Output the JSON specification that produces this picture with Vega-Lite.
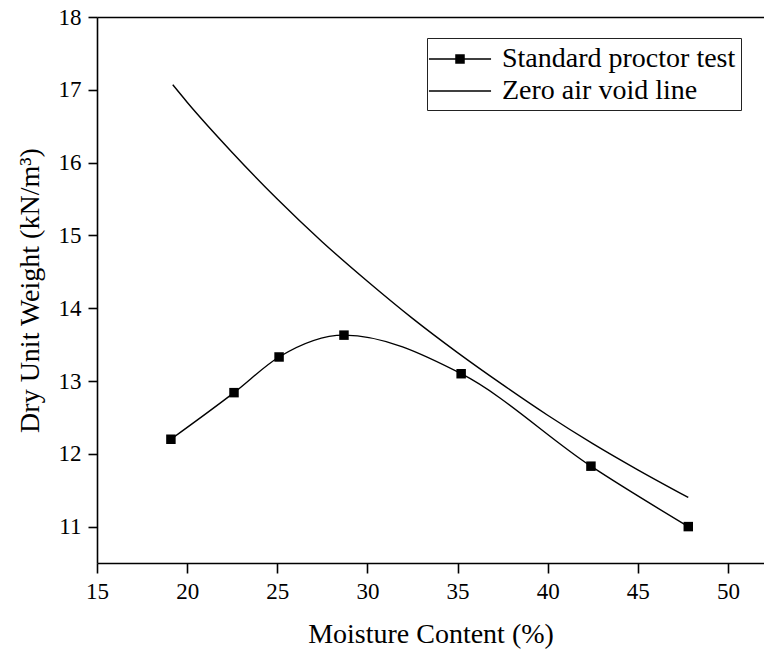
{
  "$schema": "https://vega.github.io/schema/vega-lite/v6.json",
  "width": 667,
  "height": 546,
  "autosize": "none",
  "padding": {"left": 97, "top": 17, "right": 0, "bottom": 91},
  "background": "white",
  "config": {
    "view": {"stroke": null},
    "font": "Liberation Serif",
    "style": {"guide-label": {"font": "Liberation Serif"}, "guide-title": {"font": "Liberation Serif"}}
  },
  "data": {
    "values": [
      {"series": "Standard proctor test", "w": 19.1, "g": 12.2},
      {"series": "Standard proctor test", "w": 22.6, "g": 12.84},
      {"series": "Standard proctor test", "w": 25.1, "g": 13.33},
      {"series": "Standard proctor test", "w": 28.7, "g": 13.63},
      {"series": "Standard proctor test", "w": 35.2, "g": 13.1},
      {"series": "Standard proctor test", "w": 42.4, "g": 11.83},
      {"series": "Standard proctor test", "w": 47.8, "g": 11.0},
      {"series": "Zero air void line", "w": 19.2, "g": 17.07},
      {"series": "Zero air void line", "w": 20.0, "g": 16.83},
      {"series": "Zero air void line", "w": 22.5, "g": 16.14},
      {"series": "Zero air void line", "w": 25.0, "g": 15.5},
      {"series": "Zero air void line", "w": 27.5, "g": 14.91},
      {"series": "Zero air void line", "w": 30.0, "g": 14.37},
      {"series": "Zero air void line", "w": 32.5, "g": 13.86},
      {"series": "Zero air void line", "w": 35.0, "g": 13.39},
      {"series": "Zero air void line", "w": 37.5, "g": 12.95},
      {"series": "Zero air void line", "w": 40.0, "g": 12.53},
      {"series": "Zero air void line", "w": 42.5, "g": 12.14},
      {"series": "Zero air void line", "w": 45.0, "g": 11.78},
      {"series": "Zero air void line", "w": 47.8, "g": 11.4}
    ]
  },
  "resolve": {"axis": {"x": "independent"}},
  "layer": [
    {
      "mark": {"type": "line", "interpolate": "monotone", "strokeWidth": 1.4},
      "encoding": {
        "x": {
          "field": "w", "type": "quantitative",
          "scale": {"domain": [15, 52], "nice": false, "zero": false},
          "axis": {
            "values": [15, 20, 25, 30, 35, 40, 45, 50], "format": "d",
            "title": "Moisture Content (%)",
            "grid": false, "labelFlush": false, "labelOverlap": false,
            "domainColor": "black", "domainWidth": 1.6,
            "tickColor": "black", "tickWidth": 1.6, "tickSize": 10,
            "labelFont": "Liberation Serif", "labelFontSize": 23, "labelColor": "black", "labelPadding": 7,
            "titleFont": "Liberation Serif", "titleFontSize": 28, "titleFontWeight": "normal", "titleColor": "black", "titlePadding": 17
          }
        },
        "y": {
          "field": "g", "type": "quantitative",
          "scale": {"domain": [10.5, 18], "nice": false, "zero": false},
          "axis": {
            "values": [11, 12, 13, 14, 15, 16, 17, 18], "format": "d",
            "title": "Dry Unit Weight (kN/m³)",
            "grid": false, "labelFlush": false, "labelOverlap": false,
            "domainColor": "black", "domainWidth": 1.6,
            "tickColor": "black", "tickWidth": 1.6, "tickSize": 9,
            "labelFont": "Liberation Serif", "labelFontSize": 23, "labelColor": "black", "labelPadding": 7,
            "titleFont": "Liberation Serif", "titleFontSize": 28, "titleFontWeight": "normal", "titleColor": "black", "titlePadding": 14
          }
        },
        "color": {
          "field": "series", "type": "nominal",
          "scale": {"domain": ["Standard proctor test", "Zero air void line"], "range": ["black", "black"]},
          "legend": {
            "title": null,
            "orient": "none",
            "legendX": 330,
            "legendY": 21,
            "strokeColor": "#222",
            "padding": 5,
            "symbolSize": 900,
            "symbolStrokeWidth": 1.4,
            "symbolOffset": 12,
            "labelOffset": 26,
            "labelLimit": 0,
            "labelFont": "Liberation Serif",
            "labelFontSize": 28,
            "labelColor": "black",
            "rowPadding": 2,
            "encode": {
              "symbols": {
                "update": {
                  "shape": {"signal": "datum.value === 'Standard proctor test' ? 'M-2.07,0H2.07M-0.27,-0.27H0.27V0.27H-0.27Z' : 'M-2.07,0H2.07'"},
                  "fill": {"value": "black"},
                  "stroke": {"value": "black"},
                  "fillOpacity": {"value": 1}
                }
              }
            }
          }
        }
      }
    },
    {
      "transform": [{"filter": "datum.series === 'Standard proctor test'"}],
      "mark": {"type": "point", "shape": "square", "filled": true, "size": 90, "color": "black", "opacity": 1},
      "encoding": {
        "x": {
          "field": "w", "type": "quantitative",
          "scale": {"domain": [15, 52], "nice": false, "zero": false},
          "axis": {"orient": "top", "labels": false, "ticks": false, "title": null, "grid": false, "domainColor": "black", "domainWidth": 1.6}
        },
        "y": {"field": "g", "type": "quantitative"}
      }
    }
  ]
}
